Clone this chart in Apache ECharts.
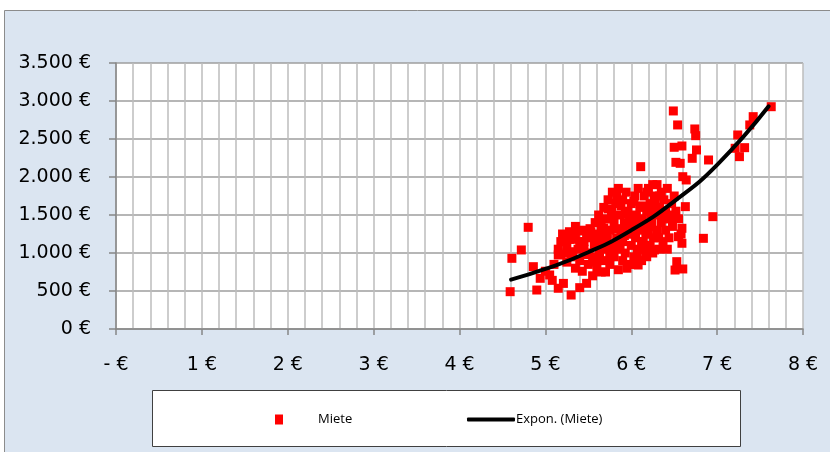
<!DOCTYPE html>
<html>
<head>
<meta charset="utf-8">
<script src="https://cdn.jsdelivr.net/npm/echarts@6/dist/echarts.min.js"></script>
<style>
  html, body { margin: 0; padding: 0; background: #fff; }
  #chart { width: 830px; height: 452px; }
</style>
</head>
<body>
<div id="chart"></div>
<script>
  // Preis pro m² (x) und Miete (y)
  const preisX = [
    6.49, 6.54, 6.74, 6.75, 6.50, 6.59, 6.76, 6.71, 6.52, 6.57, 6.90, 6.11, 6.60, 6.64,
    7.63, 7.42, 7.38, 7.24, 7.32, 7.21, 7.26,
    6.63, 6.95, 6.84, 6.59, 6.59, 6.53, 6.60, 6.51, 6.55, 6.27, 6.18, 6.08,
    4.80, 4.72, 4.61, 4.59, 4.86, 4.90, 4.94, 5.05, 5.15, 5.21, 5.30, 5.40, 5.48, 5.32, 5.15,
    5.00, 5.10, 5.08,
    5.15, 5.18, 5.20, 5.22, 5.25, 5.28, 5.30, 5.33, 5.35, 5.38, 5.40, 5.42, 5.45, 5.47, 5.50,
    5.50, 5.52, 5.18, 5.25, 5.35, 5.43, 5.45, 5.48, 5.40, 5.28,
    5.55, 5.55, 5.57, 5.58, 5.60, 5.60, 5.62, 5.63, 5.65, 5.65, 5.67, 5.68, 5.70, 5.70, 5.70,
    5.72, 5.73, 5.75, 5.75, 5.77, 5.78, 5.78, 5.80, 5.80, 5.82, 5.83, 5.85, 5.85, 5.85, 5.87,
    5.88, 5.90, 5.90, 5.90, 5.92,
    5.93, 5.94, 5.95, 5.96, 5.98, 6.00, 6.00, 6.02, 6.03, 6.04, 6.05, 6.06, 6.08, 6.08, 6.10,
    6.10, 6.12, 6.13, 6.14, 6.15, 6.16, 6.17, 6.18, 6.20, 6.20, 6.22, 6.22,
    6.24, 6.25, 6.26, 6.27, 6.28, 6.30, 6.30, 6.32, 6.33, 6.35, 6.35, 6.37, 6.38, 6.40, 6.40,
    6.42, 6.44, 6.45, 6.47, 6.48, 6.50, 6.52, 6.55, 6.58,
    5.60, 5.75, 5.95, 6.05, 5.50, 5.65, 6.15, 6.25,
    5.53, 5.58, 5.63, 5.68, 5.73, 5.78, 5.83, 5.88, 5.93, 5.98, 6.03, 6.08, 6.13, 6.18, 6.23,
    6.28, 6.33, 6.38, 6.43, 5.62, 5.72, 5.82, 5.92, 6.02, 6.12, 6.22, 6.32, 6.42, 5.57, 5.67,
    5.77, 5.87, 5.97, 6.07, 6.17, 6.27, 6.37, 5.45, 5.35, 5.25
  ];
  const miete = [
    2869, 2685, 2632, 2544, 2391, 2408, 2356, 2246, 2193, 2180, 2224, 2136, 2004, 1961,
    2925, 2794, 2685, 2553, 2386, 2378, 2268,
    1610, 1478, 1193, 1325, 1128, 886, 790, 776, 1215, 1040, 951, 842,
    1338, 1040, 930, 491, 820, 513, 667, 711, 536, 600, 447, 544, 601, 1017, 974,
    760, 850, 640,
    1050, 1150, 1250, 1200, 1100, 1280, 950, 1250, 1180, 1050, 900, 1290, 1150, 980, 850,
    1230, 1320, 980, 880, 800, 760, 1050, 1200, 1150, 1180,
    700, 950, 1100, 1400, 1250, 800, 1500, 1000, 1150, 1350, 900, 1600, 750, 1050, 1450,
    1250, 1700, 850, 1300, 1550, 1100, 1800, 950, 1400, 1650, 1200, 780, 1050, 1850, 1500,
    1300, 900, 1150, 1700, 1400,
    1000, 1800, 1250, 1550, 850, 1100, 1650, 1350, 950, 1750, 1200, 1500, 1050, 1850, 1300,
    1600, 900, 1450, 1150, 1750, 1350, 1000, 1550, 1250, 1850, 1100, 1650,
    1400, 1900, 1200, 1750, 1500, 1300, 1900, 1050, 1600, 1400, 1800, 1150, 1700, 1300, 1550,
    1850, 1200, 1450, 1650, 1350, 1750, 1550, 1450, 1250,
    900, 950, 800, 850, 1000, 750, 1050, 1000,
    1280, 1200, 1420, 1330, 1580, 1450, 1750, 1620, 1520, 1450, 1680, 1400, 1620, 1800, 1520,
    1650, 1750, 1550, 1500, 1080, 1180, 1320, 1230, 1250, 1150, 1350, 1200, 1050, 880, 1250,
    1000, 1100, 1350, 1000, 1250, 1600, 1450, 1300, 1350, 1000
  ];

  // Expon. (Miete) trend line
  const trendX = [4.6, 5.0, 5.5, 6.0, 6.5, 7.0, 7.6];
  const trendY = [650, 790, 1010, 1300, 1680, 2160, 2930];

  const yTicks = [0, 500, 1000, 1500, 2000, 2500, 3000, 3500];

  const labelFont = 'DejaVu Sans';
  const legendFont = 'Open Sans';

  function euroY(v) {
    return v.toLocaleString('de-DE') + ' €';
  }
  function euroX(v) {
    return v === 0 ? '- €' : v + ' €';
  }

  const chart = echarts.init(document.getElementById('chart'));
  chart.setOption({
    animation: false,
    graphic: [
      {
        type: 'rect', z: -10,
        shape: { x: 4.5, y: 10.5, width: 840, height: 460 },
        style: { fill: '#dbe5f1', stroke: '#8c8c8c', lineWidth: 1 }
      },
      {
        type: 'rect', z: 0,
        shape: { x: 152.5, y: 390.5, width: 588, height: 56 },
        style: { fill: '#fff', stroke: '#404040', lineWidth: 1 }
      }
    ],
    grid: {
      left: 116,
      right: 27,
      top: 63,
      bottom: 123,
      show: true,
      backgroundColor: '#fff',
      borderWidth: 0
    },
    legend: [
      {
        left: 270,
        top: 408,
        data: [{ name: 'Miete', icon: 'rect' }],
        itemWidth: 8,
        itemHeight: 10,
        textStyle: { fontFamily: legendFont, fontSize: 13, color: '#000', padding: [0, 0, 0, 30] }
      },
      {
        left: 462,
        top: 408,
        data: [{ name: 'Expon. (Miete)', icon: 'roundRect' }],
        itemWidth: 48,
        itemHeight: 4,
        itemGap: 0,
        textStyle: { fontFamily: legendFont, fontSize: 13, color: '#000', padding: [0, 0, 0, -4] }
      }
    ],
    xAxis: {
      type: 'value',
      min: 0,
      max: 8,
      interval: 1,
      axisLine: { show: true, lineStyle: { color: '#868686', width: 1.5 } },
      axisTick: { show: true, length: 6, lineStyle: { color: '#868686', width: 1.5 } },
      axisLabel: {
        formatter: euroX,
        margin: 27,
        fontFamily: labelFont,
        fontSize: 19,
        color: '#000'
      },
      splitLine: { show: true, lineStyle: { color: '#bdbdbd', width: 1.5 } },
      minorTick: { show: false, splitNumber: 5 },
      minorSplitLine: { show: true, lineStyle: { color: '#bdbdbd', width: 1.5 } }
    },
    yAxis: {
      type: 'value',
      min: yTicks[0],
      max: yTicks[yTicks.length - 1],
      interval: 500,
      axisLine: { show: true, lineStyle: { color: '#868686', width: 1.5 } },
      axisTick: { show: true, length: 7, lineStyle: { color: '#868686', width: 1.5 } },
      axisLabel: {
        formatter: euroY,
        margin: 25,
        fontFamily: labelFont,
        fontSize: 19,
        color: '#000'
      },
      splitLine: { show: true, lineStyle: { color: '#9e9e9e', width: 1.5 } }
    },
    series: [
      {
        name: 'Miete',
        type: 'scatter',
        symbol: 'rect',
        symbolSize: 9,
        itemStyle: { color: '#ff0000', opacity: 1 },
        data: preisX.map((x, i) => [x, miete[i]]),
        z: 2
      },
      {
        name: 'Expon. (Miete)',
        type: 'line',
        smooth: true,
        showSymbol: false,
        symbol: 'none',
        lineStyle: { color: '#000', width: 4, cap: 'round' },
        itemStyle: { color: '#000' },
        data: trendX.map((x, i) => [x, trendY[i]]),
        z: 3
      }
    ]
  });
</script>
</body>
</html>
